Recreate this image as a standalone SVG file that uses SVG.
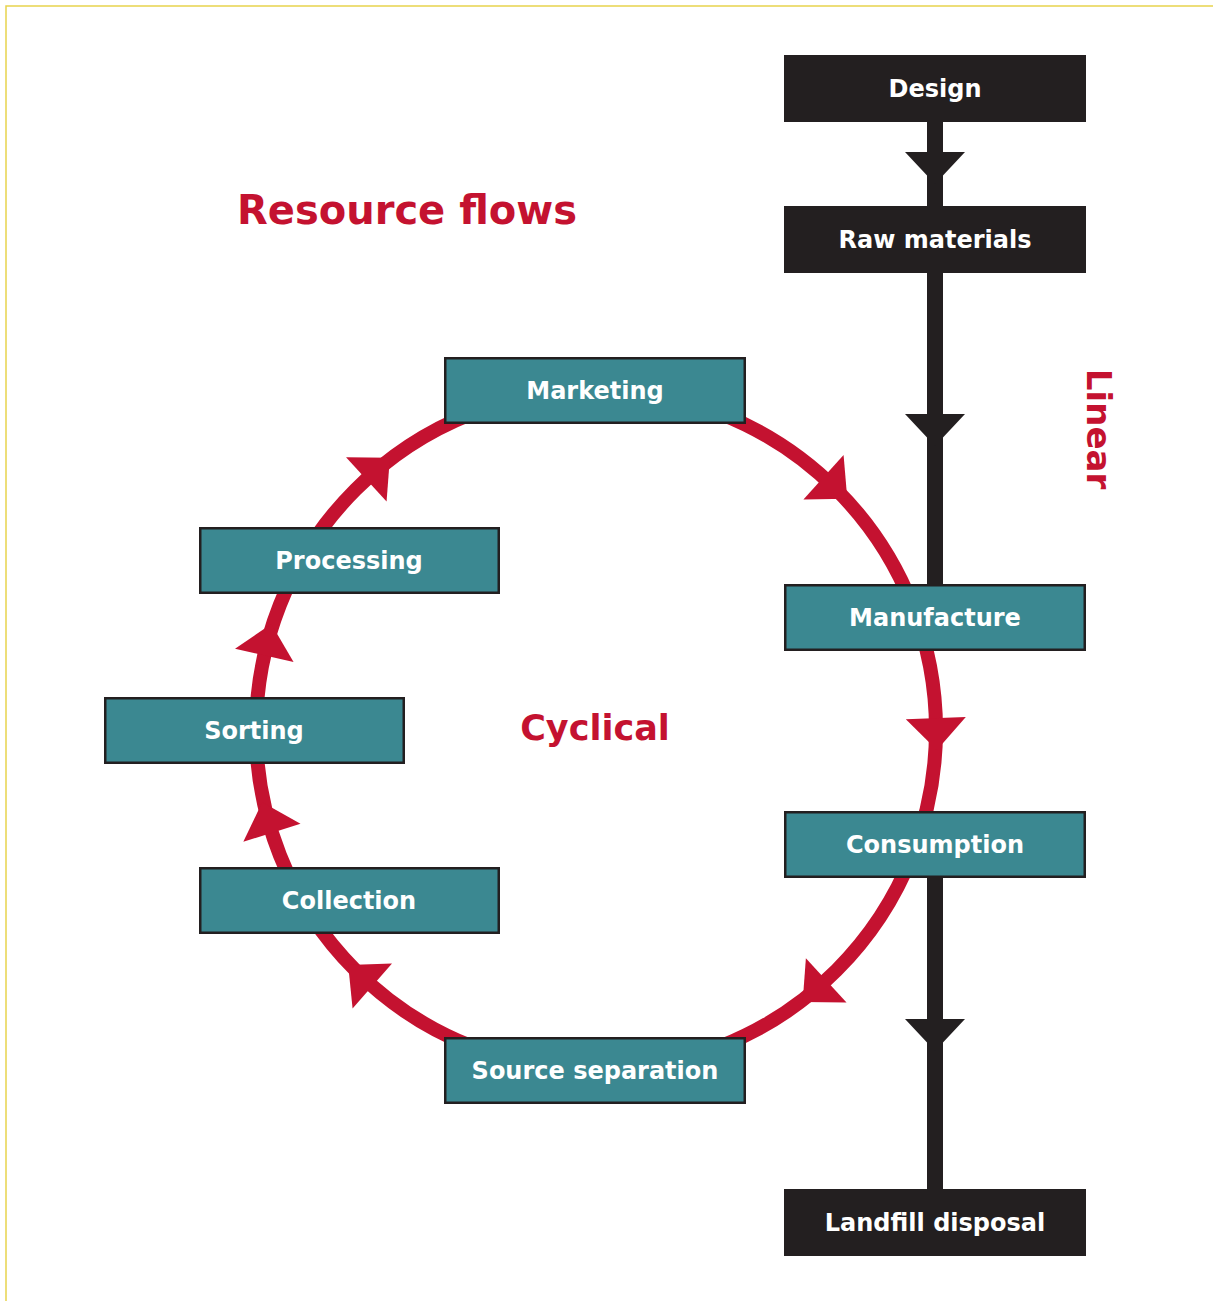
<svg xmlns="http://www.w3.org/2000/svg" width="1213" height="1301" viewBox="0 0 1213 1301">
<style>
.lbl{font-family:"DejaVu Sans","Liberation Sans",sans-serif;font-weight:bold;font-size:24px;fill:#ffffff;text-anchor:middle}
.teal{fill:#3b8891;stroke:#231f20;stroke-width:2.5}
.blk{fill:#231f20}
.red{font-family:"DejaVu Sans","Liberation Sans",sans-serif;font-weight:bold;fill:#c41230;text-anchor:middle}
</style>
<defs>
<path id="rh" d="M0,-30 L32,0 L0,30 Z" fill="#c41230"/>
<path id="bh" d="M-30,0 L30,0 L0,32 Z" fill="#231f20"/>
</defs>
<rect width="1213" height="1301" fill="#ffffff"/>
<g id="frame" fill="none" stroke="#e8d44d" stroke-width="1.5">
<path d="M1213,6 L6,6 L6,1301"/>
</g>
<g id="titles">
<text class="red" x="407" y="224" font-size="40">Resource flows</text>
<text class="red" x="595" y="740" font-size="35">Cyclical</text>
<text class="red" font-size="34" transform="translate(1087,429) rotate(90)">Linear</text>
</g>
<g id="connectors">
<circle cx="596" cy="730" r="340" fill="none" stroke="#c41230" stroke-width="14"/>
<use href="#rh" transform="translate(823.5,477.3) rotate(42)"/>
<use href="#rh" transform="translate(935.8,718.1) rotate(88)"/>
<use href="#rh" transform="translate(826.2,980.3) rotate(137.4)"/>
<use href="#rh" transform="translate(372.3,986) rotate(221.1)"/>
<use href="#rh" transform="translate(271.9,832.8) rotate(252.4)"/>
<use href="#rh" transform="translate(264.3,655.3) rotate(282.7)"/>
<use href="#rh" transform="translate(366.3,479.3) rotate(317.5)"/>
<rect class="blk" x="927" y="120" width="16" height="88"/>
<rect class="blk" x="927" y="271" width="16" height="315"/>
<rect class="blk" x="927" y="876" width="16" height="314"/>
<use href="#bh" transform="translate(935,152)"/>
<use href="#bh" transform="translate(935,414)"/>
<use href="#bh" transform="translate(935,1019)"/>
</g>
<g id="design"><rect class="blk" x="784" y="55" width="302" height="67"/><text class="lbl" x="935" y="97">Design</text></g>
<g id="raw-materials"><rect class="blk" x="784" y="206" width="302" height="67"/><text class="lbl" x="935" y="248">Raw materials</text></g>
<g id="landfill"><rect class="blk" x="784" y="1189" width="302" height="67"/><text class="lbl" x="935" y="1231">Landfill disposal</text></g>
<g id="marketing"><rect class="teal" x="445.25" y="358.25" width="299.5" height="64.5"/><text class="lbl" x="595" y="399">Marketing</text></g>
<g id="manufacture"><rect class="teal" x="785.25" y="585.25" width="299.5" height="64.5"/><text class="lbl" x="935" y="626">Manufacture</text></g>
<g id="consumption"><rect class="teal" x="785.25" y="812.25" width="299.5" height="64.5"/><text class="lbl" x="935" y="853">Consumption</text></g>
<g id="source-separation"><rect class="teal" x="445.25" y="1038.25" width="299.5" height="64.5"/><text class="lbl" x="595" y="1079">Source separation</text></g>
<g id="collection"><rect class="teal" x="200.25" y="868.25" width="298.5" height="64.5"/><text class="lbl" x="349" y="909">Collection</text></g>
<g id="sorting"><rect class="teal" x="105.25" y="698.25" width="298.5" height="64.5"/><text class="lbl" x="254" y="739">Sorting</text></g>
<g id="processing"><rect class="teal" x="200.25" y="528.25" width="298.5" height="64.5"/><text class="lbl" x="349" y="569">Processing</text></g>
</svg>
